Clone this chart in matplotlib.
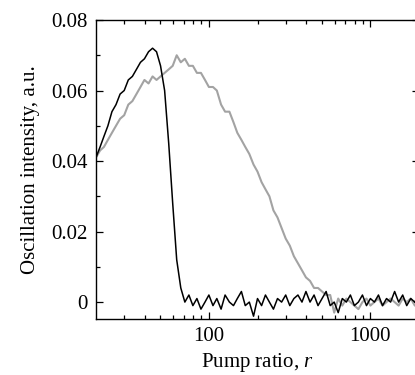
import matplotlib
matplotlib.use("Agg")
import matplotlib.pyplot as plt
from matplotlib.ticker import FixedLocator, NullFormatter, FuncFormatter

# pump ratio grid
r = [20.0, 21.2, 22.4, 23.7, 25.1, 26.6, 28.2, 29.9, 31.7, 33.6,
     35.6, 37.7, 39.9, 42.3, 44.8, 47.4, 50.2, 53.2, 56.4, 59.7,
     63.2, 67.0, 71.0, 75.2, 79.6, 84.3, 89.3, 94.6, 100, 106,
     112, 119, 126, 134, 142, 150, 159, 168, 178, 189,
     200, 212, 224, 237, 251, 266, 282, 299, 317, 336,
     356, 377, 399, 423, 448, 474, 502, 532, 564, 597,
     632, 670, 710, 752, 796, 843, 893, 946, 1000, 1059,
     1122, 1189, 1259, 1334, 1413, 1496, 1585, 1679, 1778, 1884, 2000]

# black curve
black = [0.041, 0.044, 0.047, 0.050, 0.054, 0.056, 0.059, 0.060, 0.063, 0.064,
         0.066, 0.068, 0.069, 0.071, 0.072, 0.071, 0.067, 0.060, 0.045, 0.028,
         0.012, 0.004, 0.000, 0.002, -0.001, 0.001, -0.002, 0.000, 0.002, -0.001,
         0.001, -0.002, 0.002, 0.000, -0.001, 0.001, 0.003, -0.001, 0.000, -0.004,
         0.001, -0.001, 0.002, 0.000, -0.002, 0.001, 0.000, 0.002, -0.001, 0.001,
         0.002, 0.000, 0.003, 0.000, 0.002, -0.001, 0.001, 0.003, -0.001, 0.000,
         -0.003, 0.001, 0.000, 0.002, -0.001, 0.000, 0.002, -0.001, 0.001, 0.000,
         0.002, -0.001, 0.001, 0.000, 0.003, 0.000, 0.002, -0.001, 0.001, 0.000, 0.002]

# gray curve
gray = [0.041, 0.043, 0.044, 0.046, 0.048, 0.050, 0.052, 0.053, 0.056, 0.057,
        0.059, 0.061, 0.063, 0.062, 0.064, 0.063, 0.064, 0.065, 0.066, 0.067,
        0.070, 0.068, 0.069, 0.067, 0.067, 0.065, 0.065, 0.063, 0.061, 0.061,
        0.060, 0.056, 0.054, 0.054, 0.051, 0.048, 0.046, 0.044, 0.042, 0.039,
        0.037, 0.034, 0.032, 0.030, 0.026, 0.024, 0.021, 0.018, 0.016, 0.013,
        0.011, 0.009, 0.007, 0.006, 0.004, 0.004, 0.003, 0.002, 0.002, -0.003,
        0.001, -0.001, 0.001, 0.000, -0.001, -0.002, 0.000, 0.001, -0.001, 0.000,
        0.001, -0.001, 0.000, 0.001, 0.000, -0.001, 0.001, 0.000, 0.001, -0.001, 0.000]

yticks = [0, 0.02, 0.04, 0.06, 0.08]
xticks = [100, 1000]

plt.rcParams['font.family'] = ['Liberation Serif', 'DejaVu Serif']
plt.rcParams['mathtext.fontset'] = 'custom'
plt.rcParams['mathtext.rm'] = 'Liberation Serif'
plt.rcParams['mathtext.it'] = 'Liberation Serif:italic'

fig = plt.figure(figsize=(4.15, 3.75), dpi=100)
# axes runs slightly past the right edge, as in the reference
ax = fig.add_axes([96 / 415, 56 / 375, 323 / 415, 299 / 375])

ax.plot(r, gray, color='#a3a3a3', lw=1.5)
ax.plot(r, black, color='black', lw=1.1)

ax.set_xscale('log')
ax.set_xlim(20, 2000)
ax.set_ylim(-0.0048, 0.08)

ax.xaxis.set_major_locator(FixedLocator(xticks))
ax.xaxis.set_major_formatter(FuncFormatter(lambda v, p: '%d' % v))
minors = [30, 40, 50, 60, 70, 80, 90, 200, 300, 400, 500, 600, 700, 800, 900, 2000]
ax.xaxis.set_minor_locator(FixedLocator(minors))
ax.xaxis.set_minor_formatter(NullFormatter())

ax.yaxis.set_major_locator(FixedLocator(yticks))
ax.yaxis.set_major_formatter(FuncFormatter(lambda v, p: '0' if v == 0 else '%.2f' % v))
ax.yaxis.set_minor_locator(FixedLocator([0.01, 0.03, 0.05, 0.07]))

ax.tick_params(which='both', direction='in', top=True, right=True, labelsize=15, width=0.9)
ax.tick_params(which='major', length=5, pad=6)
ax.tick_params(which='minor', length=3)
for s in ax.spines.values():
    s.set_linewidth(1.0)

ax.set_xlabel('Pump ratio, $r$', fontsize=15, labelpad=3)
ax.set_ylabel('Oscillation intensity, a.u.', fontsize=15, labelpad=8)

fig.savefig('out.png', dpi=100)
